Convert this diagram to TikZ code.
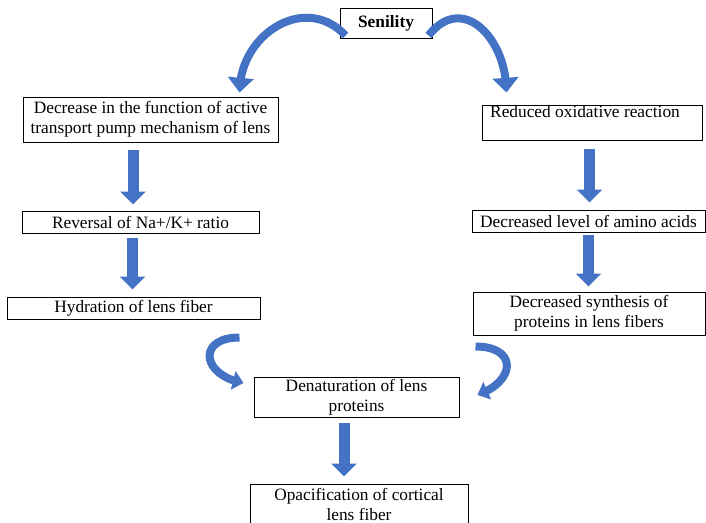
\documentclass[tikz,border=0pt]{standalone}
\usepackage{fontspec}
\setmainfont{Liberation Serif}
\usetikzlibrary{arrows.meta,bending,calc}
\definecolor{flowblue}{RGB}{68,114,196}

\begin{document}
\begin{tikzpicture}[x=0.75pt,y=0.75pt,
        box/.style={draw, line width=0.75pt, align=center, inner sep=0pt, font=\fontsize{13}{15}\selectfont},
        blockarrow/.style={draw=flowblue, line width=8.25pt, -{Triangle[width=18.75pt,length=9.75pt]}},
        curvearrow/.style={draw=flowblue, line width=6pt, -{Triangle[width=19pt,length=11pt]}},
        smallcurve/.style={draw=flowblue, line width=6pt, -{Triangle[width=14pt,length=8pt]}}]
    \useasboundingbox (0,0) rectangle (706,-522);

    \node [box, minimum width=69pt, minimum height=22.5pt] (sen) at (386,-23) {\textbf{Senility}};

    \node [box, minimum width=191.25pt, minimum height=33.75pt] (dec) at (150.5,-119.5) {Decrease in the function of active\\transport pump mechanism of lens};
    \node [box, minimum width=177.75pt, minimum height=16.5pt] (rev) at (140.5,-222) {Reversal of Na+/K+ ratio};
    \node [box, minimum width=189.75pt, minimum height=16.5pt] (hyd) at (133.5,-308) {Hydration of lens fiber};

    \node [box, minimum width=165pt, minimum height=26.25pt, text height=9pt, text depth=17.25pt] (oxi) at (592,-122.5) {Reduced oxidative reaction\hspace*{10.5pt}};
    \node [box, minimum width=174.75pt, minimum height=16.5pt] (ami) at (588.5,-221) {Decreased level of amino acids};
    \node [box, minimum width=174pt, minimum height=32.25pt] (syn) at (589,-313.5) {Decreased synthesis of\\proteins in lens fibers};

    \node [box, minimum width=153.75pt, minimum height=30pt] (den) at (356.5,-397) {Denaturation of lens\\proteins};
    \node [box, minimum width=163.5pt, minimum height=30pt] (opa) at (359,-504) {Opacification of cortical\\lens fiber};

    \foreach \a/\b/\x/\s/\e in {dec/rev/133/5.25/4.5, rev/hyd/132.5/3/5.25, oxi/ami/589.5/6/5.25, ami/syn/588.5/1.5/3.75, den/opa/344/3.75/5.25} {
        \coordinate (ax) at (\x,0);
        \draw [blockarrow, shorten <=\s pt, shorten >=\e pt] (\a.south -| ax) -- (\b.north -| ax);
    }

    \draw [curvearrow] ($(sen.south west)+(6,3)$) to [out=133, in=90, looseness=1.25] ($(dec.north east)+(-39,4)$);
    \draw [curvearrow] ($(sen.south east)+(-4,3)$) to [out=52, in=90, looseness=1.45] ($(oxi.north west)+(25,12)$);
    \draw [smallcurve] ($(den.north west)+(-14,39)$) to [out=180, in=170, looseness=2.4] ($(den.west)+(-10,14)$);
    \draw [smallcurve] ($(den.north east)+(16,30)$) to [out=0, in=20, looseness=2.2] ($(den.east)+(18,2)$);
\end{tikzpicture}
\end{document}
